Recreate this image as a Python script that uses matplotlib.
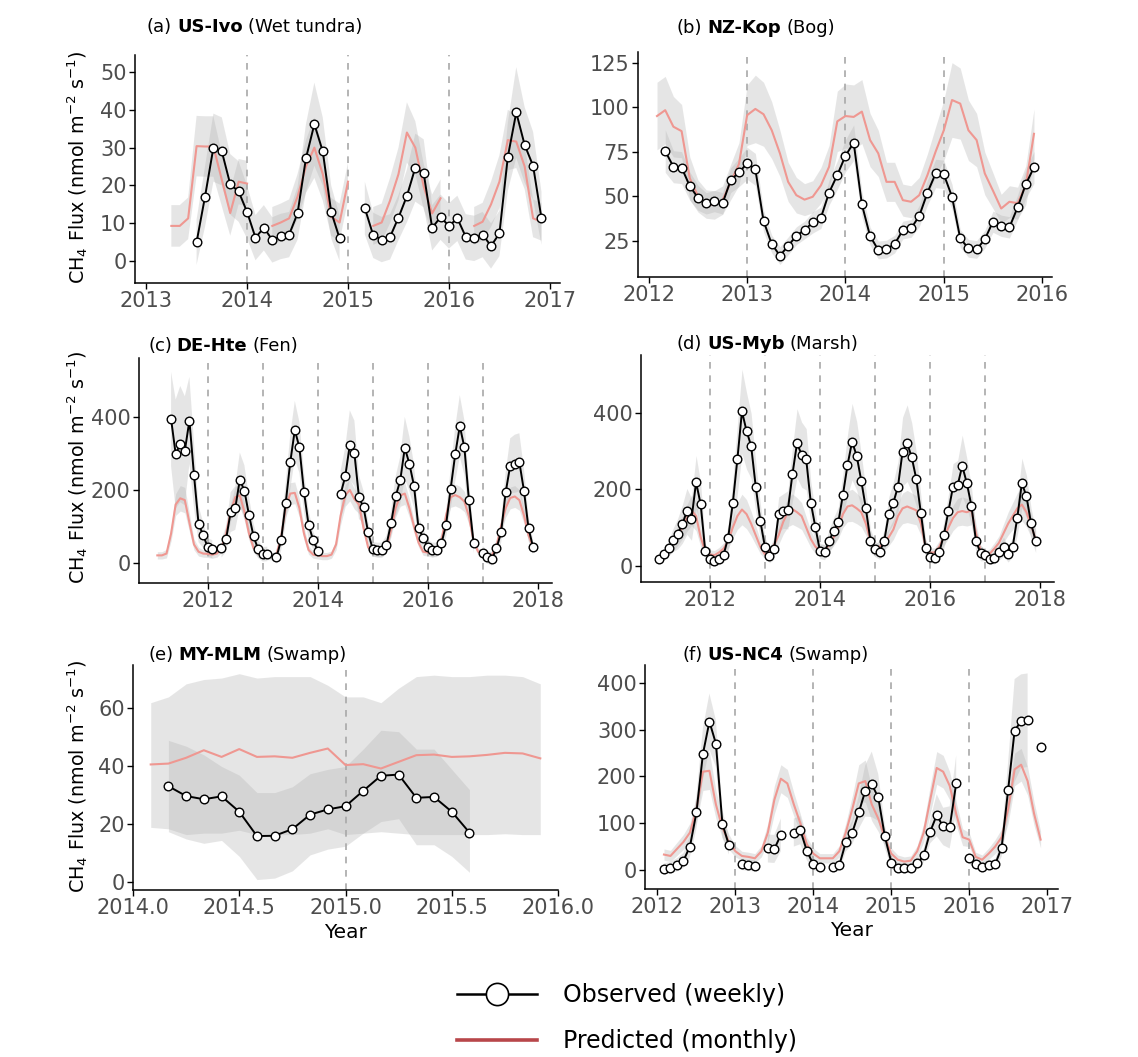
import numpy as np
import matplotlib
matplotlib.use("Agg")
import matplotlib.pyplot as plt
from matplotlib.lines import Line2D

nan = np.nan

# ---- (a) US-Ivo, obs from Jul 2013, pred from Apr 2013 (monthly)
obs_a = [5, 17, 30, 29, 20.3, 18.4,
         13, 6.2, 8.8, 5.6, 6.5, 7, 12.6, 27.2, 36.2, 29, 13, 6,
         nan, nan, 14, 6.8, 5.7, 6.4, 11.5, 17.2, 24.7, 23.2, 8.8, 11.6,
         9.3, 11.3, 6.4, 6, 7, 4, 7.3, 27.6, 39.3, 30.7, 25.2, 11.3]
obs_a_sd = [6, 8, 9, 9, 8, 8,
            7, 6, 6, 6, 6, 6, 7, 9, 11, 9, 7, 6,
            nan, nan, 7, 6, 6, 6, 6, 7, 9, 9, 6, 6,
            6, 6, 6, 6, 6, 6, 6, 9, 12, 10, 9, 7]
pred_a = [9.3, 9.3, 11.3, 30.4, 30.3, 30.3, 21.5, 12.7, 21,
          20.5, nan, nan, 9.3, 10.2, 11.3, 17, 25, 30, 23, 11.7, 10.2,
          21, nan, nan, 9.3, 10.2, 16, 23, 34, 30, 19.7, 12.6, 16.6,
          nan, nan, nan, 9.3, 10.4, 15, 21, 32, 31.6, 25, 11.3, 10.4]
pred_a_sd = [5.5, 5.5, 5.5, 8, 8, 8, 7, 6, 6,
             6, nan, nan, 5, 5, 5, 6, 7, 8, 7, 5, 5,
             5, nan, nan, 5, 5, 6, 7, 8, 7, 6, 5, 5,
             nan, nan, nan, 5, 5, 6, 7, 8, 7, 6, 5, 5]

# ---- (b) NZ-Kop, obs from Mar 2012, pred from Feb 2012
obs_b = [75.3, 66.5, 66, 55.6, 49, 45.9, 47.2, 45.9, 59, 63.3,
         68.4, 65, 36, 23, 16.5, 22, 27.7, 30.9, 35.2, 37.8, 52, 61.8,
         72.7, 80, 45.3, 27.5, 19.7, 20.2, 23, 30.9, 31.8, 38.8, 51.9, 62.7,
         62.2, 49.6, 26.2, 20.6, 20, 25.7, 35.6, 33.3, 32.4, 43.6, 56.7, 66.1]
obs_b_sd = [12, 9, 9, 8, 7, 6, 6, 6, 7, 8,
            9, 9, 6, 5, 5, 5, 5, 5, 6, 6, 7, 8,
            9, 10, 7, 5, 5, 5, 5, 5, 5, 6, 7, 8,
            8, 7, 5, 5, 5, 5, 6, 6, 6, 7, 8, 9]
pred_b = [95, 98.3, 89, 86.5, 60, 50, 45.5, 45, 47.7, 58, 68,
          95.5, 99, 96, 87, 74, 58, 50.5, 48, 49.6, 56, 66.5, 92,
          95, 94.5, 97.5, 81.5, 74, 58, 58, 47.7, 46.8, 50.5, 61.8, 75,
          87, 104, 102, 87, 81.5, 62.7, 53, 43, 46.8, 46, 56, 85]
pred_b_sd = [19, 19, 17, 15, 12, 9, 8, 8, 8, 10, 12,
             17, 19, 18, 16, 13, 11, 10, 9, 9, 10, 12, 17,
             18, 18, 18, 15, 13, 11, 11, 9, 9, 10, 12, 14,
             17, 21, 20, 17, 15, 12, 10, 8, 9, 9, 11, 14]

# ---- (c) DE-Hte, obs from May 2011, pred from Feb 2011
obs_c = [395, 299, 326, 308, 391, 241, 106, 76,
         42, 37, nan, 39, 65, 139, 150, 228, 198, 131, 72, 37,
         23, 24, nan, 15, 62, 163, 276, 365, 317, 195, 104, 62,
         33, nan, nan, nan, nan, 189, 237, 324, 301, 180, 152, 83,
         37, 35, 35, 49, 108, 182, 226, 316, 272, 212, 94, 69,
         44, 35, 35, 53, 104, 203, 298, 376, 317, 171, 55, nan,
         26, 15, 10, 39, 83, 193, 267, 272, 276, 198, 94, 42]
obs_c_sd = [130, 150, 160, 150, 120, 90, 50, 35,
            25, 25, nan, 25, 35, 55, 60, 75, 70, 50, 35, 25,
            20, 20, nan, 20, 30, 55, 75, 80, 70, 55, 40, 25,
            20, nan, nan, nan, nan, 65, 80, 95, 90, 60, 45, 30,
            20, 20, 20, 25, 35, 55, 65, 85, 75, 60, 35, 25,
            20, 20, 20, 25, 35, 55, 75, 85, 75, 50, 30, nan,
            20, 18, 18, 22, 30, 55, 75, 80, 80, 60, 35, 20]
pred_c = [20, 20, 25, 80, 160, 177, 172, 110, 50, 30, 25,
          24, 22, 25, 40, 80, 140, 180, 185, 140, 80, 40, 25,
          20, 18, 18, 22, 70, 150, 190, 192, 150, 80, 35, 22,
          20, 18, 18, 22, 50, 130, 185, 200, 175, 160, 95, 42,
          28, 25, 25, 40, 90, 150, 185, 190, 150, 100, 55, 30,
          28, 25, 30, 60, 130, 180, 186, 180, 168, 127, 60, 30,
          25, 18, 20, 45, 100, 150, 178, 182, 172, 130, 75, 43]
pred_c_sd = [10, 10, 12, 20, 30, 35, 35, 25, 15, 12, 10,
             10, 10, 10, 12, 18, 25, 30, 30, 25, 18, 12, 10,
             10, 10, 10, 10, 15, 25, 30, 30, 25, 18, 12, 10,
             10, 10, 10, 10, 15, 25, 30, 30, 28, 25, 15, 10,
             10, 10, 10, 12, 18, 25, 30, 30, 25, 18, 12, 10,
             10, 10, 10, 12, 20, 28, 30, 30, 28, 22, 12, 10,
             10, 10, 10, 12, 18, 25, 30, 30, 28, 22, 15, 10]

# ---- (d) US-Myb, obs and pred from Feb 2011
obs_d = [19, 30, 46, 68, 84, 109, 142, 122, 218, 161, 39,
         17, 13, 18, 29, 74, 163, 278, 403, 352, 313, 207, 117,
         50, 26, 43, 135, 143, 146, 239, 320, 290, 278, 165, 101,
         39, 36, 65, 92, 114, 185, 263, 324, 287, 222, 150, 66,
         44, 37, 65, 135, 165, 207, 298, 320, 283, 226, 137, 46,
         24, 20, 36, 81, 143, 207, 210, 261, 216, 157, 65, 33,
         29, 17, 20, 35, 50, 30, 50, 126, 216, 181, 111, 65]
obs_d_sd = [12, 15, 20, 30, 40, 50, 60, 55, 70, 55, 20,
            15, 12, 15, 20, 35, 60, 90, 110, 100, 85, 65, 45,
            25, 18, 25, 45, 45, 50, 70, 90, 85, 80, 55, 40,
            20, 20, 30, 35, 40, 55, 80, 100, 90, 70, 50, 30,
            20, 20, 30, 45, 55, 65, 90, 100, 90, 70, 45, 25,
            15, 15, 20, 35, 45, 60, 65, 80, 65, 50, 30, 20,
            15, 12, 15, 20, 25, 20, 25, 45, 65, 55, 40, 30]
pred_d = [20, 28, 42, 58, 78, 100, 125, 145, 130, 75, 38,
          30, 28, 35, 45, 65, 100, 130, 147, 135, 110, 80, 50,
          30, 35, 55, 80, 115, 140, 148, 140, 130, 100, 70, 50,
          40, 40, 55, 75, 100, 135, 155, 158, 150, 140, 110, 65,
          40, 50, 60, 75, 95, 130, 150, 155, 150, 145, 110, 50,
          35, 35, 50, 75, 100, 125, 140, 143, 140, 145, 85, 40,
          28, 32, 45, 60, 85, 110, 130, 150, 160, 140, 105, 70]
pred_d_sd = [10, 12, 15, 20, 25, 30, 35, 40, 38, 25, 15,
             12, 12, 13, 15, 20, 28, 35, 40, 38, 32, 25, 18,
             12, 13, 18, 24, 32, 38, 40, 38, 35, 28, 22, 18,
             15, 15, 18, 22, 28, 35, 40, 42, 40, 38, 30, 20,
             15, 18, 20, 22, 26, 35, 40, 42, 40, 38, 30, 18,
             12, 12, 16, 22, 28, 33, 36, 37, 36, 38, 25, 15,
             12, 12, 15, 18, 24, 30, 35, 40, 42, 38, 30, 22]

# ---- (e) MY-MLM, obs from Mar 2014, pred from Feb 2014
obs_e = [33.2, 29.8, 28.7, 29.7, 24.4, 16, 16.1, 18.4, 23.4, 25.2,
         26.3, 31.6, 36.8, 37.2, 29.2, 29.5, 24.4, 17.2]
obs_e_lo = [17.5, 15, 13.5, 14.5, 9, 1, 1.5, 4, 9.5, 11.5,
            12.5, 17, 21, 22, 13, 13, 9, 3.5]
obs_e_hi = [49, 47, 44, 40, 37, 31, 31, 33, 37.5, 39,
            40, 46, 52.5, 52, 46, 46, 39, 32]
pred_e = [40.7, 41, 43, 45.6, 43.3, 46, 43.3, 43.5, 43, 44.7, 46.2,
          40.5, 40.8, 39.3, 41.6, 43.9, 44.1, 43.3, 43.5, 44, 44.7, 44.5, 42.8]
pred_e_lo = [19, 18.5, 16.5, 17, 17, 18, 16.5, 16.5, 16.5, 17, 18.5,
             16.5, 17, 17.5, 17, 16.5, 16.5, 16.5, 16.5, 16.5, 16.8, 16.5, 16.5]
pred_e_hi = [62, 64, 68.5, 70, 70.5, 72, 70.5, 71, 71, 71, 68,
             64, 64, 62, 67, 71, 71.5, 71, 71, 71.5, 71.5, 71, 68.5]

# ---- (f) US-NC4, obs and pred from Feb 2012
obs_f = [2, 5, 11, 20, 50, 123, 248, 317, 270, 99, 53,
         nan, 12, 10, 9, nan, 46, 45, 75, nan, 80, 85, 41,
         12, 6, nan, 6, 10, 59, 80, 123, 169, 183, 155, 73,
         16, 5, 5, 4, 14, 31, 82, 117, 93, 91, 185, nan,
         25, 13, 6, 11, 12, 48, 171, 298, 318, 320, nan, 262]
obs_f_sd = [12, 12, 14, 16, 22, 35, 55, 60, 50, 30, 20,
            nan, 12, 12, 12, nan, 30, 30, 35, nan, 30, 30, 20,
            12, 10, nan, 10, 12, 20, 25, 35, 55, 70, 50, 25,
            12, 10, 10, 10, 12, 15, 25, 45, 40, 45, 60, nan,
            12, 10, 10, 10, 10, 20, 60, 110, 100, 100, nan, nan]
pred_f = [33, 30, 45, 60, 80, 130, 210, 212, 140, 90, 60,
          40, 30, 28, 25, 40, 80, 150, 195, 185, 140, 100, 55,
          35, 25, 25, 25, 40, 80, 130, 185, 190, 140, 110, 70,
          35, 22, 18, 20, 40, 80, 150, 218, 210, 180, 120, 70,
          65, 28, 22, 35, 50, 70, 130, 215, 225, 190, 120, 65]
pred_f_sd = [12, 12, 14, 16, 20, 28, 40, 40, 30, 22, 16,
             12, 10, 10, 10, 12, 20, 30, 30, 30, 25, 20, 15,
             12, 10, 10, 10, 12, 20, 28, 40, 45, 35, 28, 18,
             12, 10, 10, 10, 12, 20, 30, 35, 35, 30, 25, 18,
             15, 10, 10, 12, 15, 18, 30, 35, 35, 30, 25, 18]

titles = [("(a)", "US-Ivo", "(Wet tundra)"), ("(b)", "NZ-Kop", "(Bog)"),
          ("(c)", "DE-Hte", "(Fen)"), ("(d)", "US-Myb", "(Marsh)"),
          ("(e)", "MY-MLM", "(Swamp)"), ("(f)", "US-NC4", "(Swamp)")]


def monthly(year, month, values):
    vals = np.array(values, dtype=float)
    x = year + (month - 1 + np.arange(len(vals))) / 12.0
    return x, vals


W, H = 1138, 1057
fig = plt.figure(figsize=(W / 100, H / 100), dpi=100)
plt.rcParams['font.family'] = ['DejaVu Sans']

BAND = '#b3b3b3'
RED = '#ef9791'
TICK_GRAY = '#4d4d4d'


def px_axes(l, r, t, b):
    return fig.add_axes([l / W, 1 - b / H, (r - l) / W, (b - t) / H])


def style(ax, xlim, ylim, xticks, yticks, vlines, xfmt=None):
    ax.set_xlim(*xlim)
    ax.set_ylim(*ylim)
    ax.set_xticks(xticks)
    if xfmt:
        ax.set_xticklabels([xfmt % v for v in xticks])
    ax.set_yticks(yticks)
    for s in ['top', 'right']:
        ax.spines[s].set_visible(False)
    for s in ['left', 'bottom']:
        ax.spines[s].set_linewidth(1.1)
    ax.tick_params(length=4, width=1.0, labelsize=15, labelcolor=TICK_GRAY, pad=2)
    for v in vlines:
        ax.axvline(v, color='#a8a8a8', lw=1.2, ls=(0, (4, 4)), zorder=2)


def draw(ax, obs, pred, obs_band, pred_band):
    (xo, yo), (xp, yp) = obs, pred
    plo, phi = pred_band
    olo, ohi = obs_band
    ax.fill_between(xp, plo, phi, color=BAND, alpha=0.33, lw=0, zorder=1)
    ax.fill_between(xo, olo, ohi, color=BAND, alpha=0.33, lw=0, zorder=1)
    ax.plot(xp, yp, color=RED, lw=1.5, zorder=3)
    ax.plot(xo, yo, color='black', lw=1.4, marker='o', ms=6.2, mfc='white',
            mec='black', mew=1.0, zorder=4)


def sym(year, month, vals, sd):
    x, v = monthly(year, month, vals)
    _, s = monthly(year, month, sd)
    return (x, v), (v - s, v + s)


# (a)
ax = px_axes(135, 560, 55, 283)
o, ob = sym(2013, 7, obs_a, obs_a_sd)
p, pb = sym(2013, 4, pred_a, pred_a_sd)
style(ax, (2012.89, 2017.10), (-5.8, 54.5), range(2013, 2018), range(0, 51, 10), [2014, 2015, 2016])
draw(ax, o, p, ob, pb)

# (b)
ax = px_axes(638, 1052, 52, 277)
o, ob = sym(2012, 3, obs_b, obs_b_sd)
p, pb = sym(2012, 2, pred_b, pred_b_sd)
style(ax, (2011.89, 2016.1), (4.5, 131), range(2012, 2017), range(25, 126, 25), [2013, 2014, 2015])
draw(ax, o, p, ob, pb)

# (c)
ax = px_axes(139, 552, 358, 583)
o, ob = sym(2011, 5, obs_c, obs_c_sd)
p, pb = sym(2011, 2, pred_c, pred_c_sd)
style(ax, (2010.75, 2018.26), (-56, 563), [2012, 2014, 2016, 2018], [0, 200, 400], range(2012, 2018))
draw(ax, o, p, ob, pb)

# (d)
ax = px_axes(641, 1054, 355, 582)
o, ob = sym(2011, 2, obs_d, obs_d_sd)
p, pb = sym(2011, 2, pred_d, pred_d_sd)
style(ax, (2010.75, 2018.25), (-42, 550), [2012, 2014, 2016, 2018], [0, 200, 400], range(2012, 2018))
draw(ax, o, p, ob, pb)

# (e)
ax = px_axes(133, 558, 665, 890)
o = monthly(2014, 3, obs_e)
p = monthly(2014, 2, pred_e)
ob = (np.array(obs_e_lo), np.array(obs_e_hi))
pb = (np.array(pred_e_lo), np.array(pred_e_hi))
style(ax, (2014.0, 2016.0), (-2.6, 75), [2014.0, 2014.5, 2015.0, 2015.5, 2016.0], [0, 20, 40, 60], [2015],
      xfmt='%.1f')
draw(ax, o, p, ob, pb)
ax.set_xlabel('Year', fontsize=14.5, labelpad=3)

# (f)
ax = px_axes(645, 1058, 665, 889)
o, ob = sym(2012, 2, obs_f, obs_f_sd)
p, pb = sym(2012, 2, pred_f, pred_f_sd)
style(ax, (2011.84, 2017.14), (-40.6, 438), range(2012, 2018), range(0, 401, 100), range(2013, 2017))
draw(ax, o, p, ob, pb)
ax.set_xlabel('Year', fontsize=14.5, labelpad=3)

# y labels
ylab = r'CH$_4$ Flux (nmol m$^{-2}$ s$^{-1}$)'
for cy in [167, 467, 776]:
    fig.text(78 / W, 1 - cy / H, ylab, rotation=90, ha='center', va='center', fontsize=13.8)

# panel titles with bold site name
renderer = fig.canvas.get_renderer()
title_pos = [(147, 27), (677, 28), (148, 346), (677, 344), (148, 655), (682, 655)]
for (tx, ty), parts in zip(title_pos, titles):
    x = tx / W
    for txt, wt in zip(parts, ['normal', 'bold', 'normal']):
        t = fig.text(x, 1 - ty / H, txt, fontsize=13, fontweight=wt, va='center', ha='left')
        bb = t.get_window_extent(renderer)
        x += (bb.width + 5) / W

# legend
handles = [Line2D([], [], color='black', lw=1.8, marker='o', ms=16, mfc='white', mec='black', mew=1.2),
           Line2D([], [], color='#b8464a', lw=2.6)]
fig.legend(handles, ['Observed (weekly)', 'Predicted (monthly)'], loc='center',
           bbox_to_anchor=(627 / W, 1 - 1018 / H), frameon=False, fontsize=17,
           handlelength=3.4, handletextpad=1.1, labelspacing=0.95)

fig.savefig('out.png', dpi=100)
